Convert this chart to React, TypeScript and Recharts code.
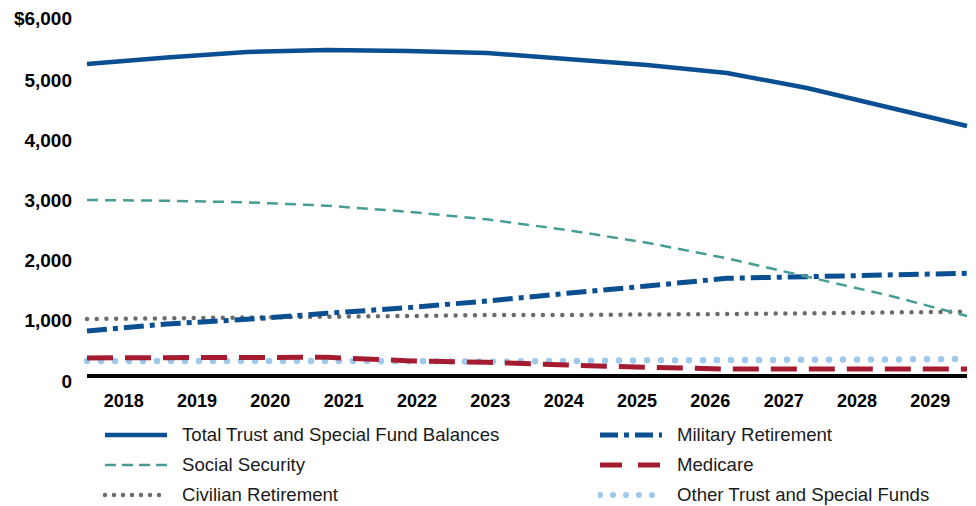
import React from 'react';
import { LineChart, Line, XAxis, YAxis, ReferenceLine, Legend } from 'recharts';

const years = ['2018', '2019', '2020', '2021', '2022', '2023', '2024', '2025', '2026', '2027', '2028', '2029'];
const total = [5185, 5293, 5385, 5418, 5401, 5368, 5268, 5169, 5036, 4786, 4471, 4155];
const socialSecurity = [2925, 2913, 2887, 2831, 2731, 2604, 2426, 2215, 1956, 1650, 1346, 997];
const military = [748, 864, 942, 1042, 1135, 1246, 1374, 1496, 1624, 1650, 1679, 1707];
const civilian = [947, 959, 972, 985, 997, 1014, 1014, 1022, 1030, 1042, 1055, 1069];
const medicare = [300, 305, 308, 311, 254, 228, 183, 145, 116, 116, 116, 116];
const other = [250, 250, 250, 250, 245, 240, 250, 260, 265, 270, 275, 283];
const yTicks = [0, 1000, 2000, 3000, 4000, 5000, 6000];

const data = years.map((y, i) => ({
  year: y,
  total: total[i],
  socialSecurity: socialSecurity[i],
  military: military[i],
  civilian: civilian[i],
  medicare: medicare[i],
  other: other[i],
}));

const FONT = '"Liberation Sans", Arial, sans-serif';

type S = { key: string; name: string; color: string; width: number; dash?: string; legendDash?: string; legendWidth?: number; cap?: 'round' | 'butt' };

const series: Record<string, S> = {
  total: { key: 'total', name: 'Total Trust and Special Fund Balances', color: '#0a4f92', width: 4.5 },
  socialSecurity: { key: 'socialSecurity', name: 'Social Security', color: '#479d95', width: 2.5, dash: '11 7', legendDash: '11 6' },
  civilian: { key: 'civilian', name: 'Civilian Retirement', color: '#6b6b6b', width: 4.5, dash: '0 9.7', legendDash: '0 9', legendWidth: 4.5, cap: 'round' },
  military: { key: 'military', name: 'Military Retirement', color: '#0a4f92', width: 5, dash: '20 6 5 6', legendDash: '18 6 5 6' },
  medicare: { key: 'medicare', name: 'Medicare', color: '#a51c31', width: 5, dash: '26 12', legendDash: '22 16' },
  other: { key: 'other', name: 'Other Trust and Special Funds', color: '#9fc8ea', width: 6.5, dash: '0 14', legendDash: '0 13', legendWidth: 6, cap: 'round' },
};

const drawOrder = ['other', 'medicare', 'civilian', 'military', 'socialSecurity', 'total'];
const col1 = ['total', 'socialSecurity', 'civilian'];
const col2 = ['military', 'medicare', 'other'];

const YTick = (props: any) => {
  const { x, y, payload } = props;
  const v = payload.value as number;
  const label = v === 6000 ? '$6,000' : v.toLocaleString('en-US');
  return (
    <text x={x} y={y + (v === 6000 ? 3 : 5)} textAnchor="end" dominantBaseline="central" fontFamily={FONT} fontWeight="bold" fontSize={19} fill="#000">
      {label}
    </text>
  );
};

const LegendItem = ({ s, left, top }: { s: S; left: number; top: number }) => (
  <div style={{ position: 'absolute', left, top, height: 30, display: 'flex', alignItems: 'center' }}>
    <svg width={66} height={12} style={{ display: 'block' }}>
      <line x1={2} y1={6} x2={64} y2={6} stroke={s.color} strokeWidth={s.legendWidth ?? s.width} strokeDasharray={s.legendDash} strokeLinecap={s.cap ?? 'butt'} />
    </svg>
    <span style={{ marginLeft: 13, fontFamily: FONT, fontSize: 18.6, color: '#1a1a1a', whiteSpace: 'nowrap' }}>{s.name}</span>
  </div>
);

const renderLegend = () => (
  <div style={{ position: 'relative', width: 976, height: 90 }}>
    {col1.map((k, i) => (
      <LegendItem key={k} s={series[k]} left={103} top={i * 30} />
    ))}
    {col2.map((k, i) => (
      <LegendItem key={k} s={series[k]} left={598} top={i * 30} />
    ))}
  </div>
);

export default function App() {
  return (
    <div style={{ position: 'absolute', left: 0, top: 0, width: 976, height: 506, background: '#fff' }}>
      <LineChart width={976} height={506} data={data} margin={{ top: 15, right: 9, left: 7, bottom: 90 }}>
        <XAxis xAxisId="cat" dataKey="year" type="category" hide height={0} />
        <XAxis
          xAxisId="labels"
          dataKey="year"
          type="category"
          scale="band"
          axisLine={false}
          tickLine={false}
          tickSize={0}
          tickMargin={18}
          height={40}
          interval={0}
          tick={{ fontFamily: FONT, fontWeight: 'bold', fontSize: 18, fill: '#000' }}
        />
        <YAxis
          domain={[0, 6000]}
          ticks={yTicks}
          width={80}
          axisLine={false}
          tickLine={false}
          tickSize={0}
          tickMargin={15}
          tick={<YTick />}
        />
        <ReferenceLine xAxisId="cat" y={0} stroke="#000" strokeWidth={4} />
        {drawOrder.map((k) => {
          const s = series[k];
          return (
            <Line
              key={k}
              xAxisId="cat"
              type="linear"
              dataKey={s.key}
              name={s.name}
              stroke={s.color}
              strokeWidth={s.width}
              strokeDasharray={s.dash}
              strokeLinecap={s.cap ?? 'butt'}
              dot={false}
              activeDot={false}
              isAnimationActive={false}
            />
          );
        })}
        <Legend verticalAlign="middle" layout="horizontal" content={renderLegend} wrapperStyle={{ top: 420, left: 0, width: 976 }} />
      </LineChart>
    </div>
  );
}
